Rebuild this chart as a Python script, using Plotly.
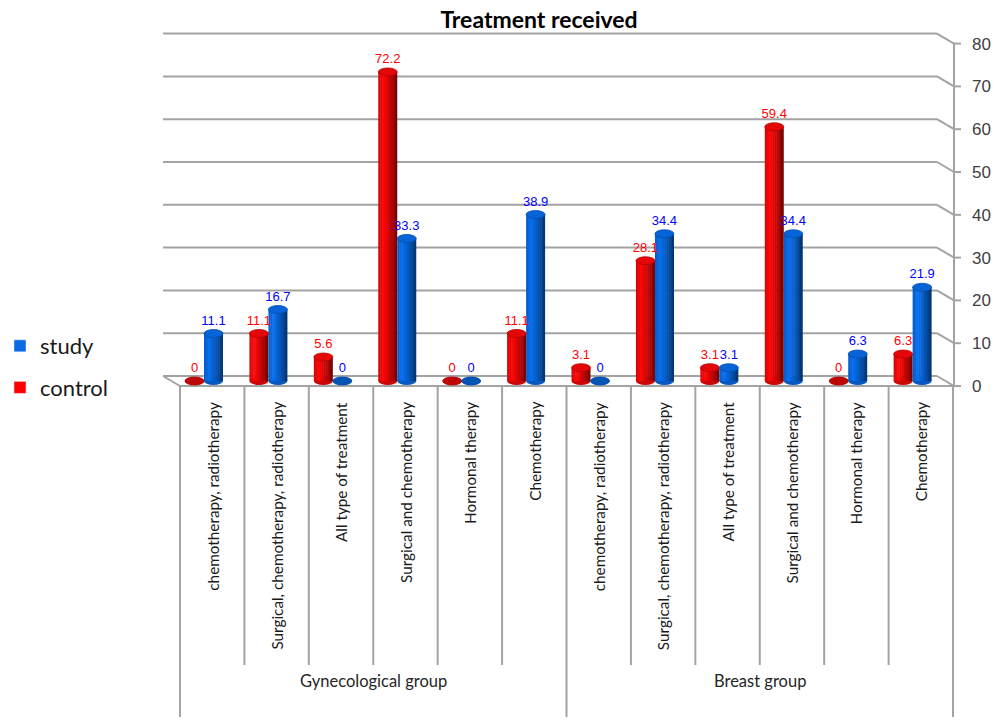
import plotly.graph_objects as go

# ---------------- data ----------------
gyn_categories = ["chemotherapy, radiotherapy", "Surgical, chemotherapy, radiotherapy",
                  "All type of treatment", "Surgical and chemotherapy",
                  "Hormonal therapy", "Chemotherapy"]
breast_categories = ["chemotherapy, radiotherapy", "Surgical, chemotherapy, radiotherapy",
                     "All type of treatment", "Surgical and chemotherapy",
                     "Hormonal therapy", "Chemotherapy"]
group_names = ["Gynecological group", "Breast group"]
control = [0, 11.1, 5.6, 72.2, 0, 11.1, 3.1, 28.1, 3.1, 59.4, 0, 6.3]
study = [11.1, 16.7, 0, 33.3, 0, 38.9, 0, 34.4, 3.1, 34.4, 6.3, 21.9]
y_ticks = [0, 10, 20, 30, 40, 50, 60, 70, 80]

categories = gyn_categories + breast_categories
idx = list(range(len(categories)))

# ---------------- geometry (pixel-based layout constants) ----------------
W, H = 998, 725
PX_PER_CAT = 64.42
X0_PX = 204.0        # pixel of bar-pair centre for first category
Y0_PX = 381.0        # pixel of value 0 on the bar plane
PX_PER_UNIT = 4.28
DEPTH = 5.0 / PX_PER_UNIT


def xd(px):
    return (px - X0_PX) / PX_PER_CAT


def yd(py):
    return (Y0_PX - py) / PX_PER_UNIT


x_range = [xd(0), xd(W)]
y_range = [yd(H), yd(0)]

BAR_W = 19.0 / PX_PER_CAT
CAP = 4.0 / PX_PER_UNIT
N_STRIPS = 10
GRID = "#a3a3a3"
FRONT = xd(212.2)    # shift from bar plane to front plane category centre


def shade(t):
    if t < 0.25:
        return 0.82 + 0.18 * (t / 0.25)
    return 1.0 - 0.55 * ((t - 0.25) / 0.75) ** 1.2


def col(base, f):
    return "rgb(%d,%d,%d)" % tuple(min(255, int(c * f)) for c in base)


RED = (255, 8, 8)
BLUE = (8, 112, 240)

fig = go.Figure()

series = [("control", control, RED, -BAR_W, "#ff0000"),
          ("study", study, BLUE, 0.0, "#0000ff")]

for name, vals, base, off, tcol in series:
    for k in range(N_STRIPS):
        t = (k + 0.5) / N_STRIPS
        wk = BAR_W / N_STRIPS
        fig.add_trace(go.Bar(
            x=idx, y=vals,
            width=wk * (1.25 if k < N_STRIPS - 1 else 1.0),
            offset=off + k * wk,
            marker=dict(color=col(base, shade(t)), line=dict(width=0)),
            showlegend=False, hoverinfo="skip"))

# data labels
for name, vals, base, off, tcol in series:
    fig.add_trace(go.Scatter(
        x=[i + off + BAR_W / 2 for i in idx], y=[v + 1.3 for v in vals],
        mode="text", text=[f"{v:g}" for v in vals], textposition="top center",
        textfont=dict(family="Liberation Sans", size=13, color=tcol),
        showlegend=False, hoverinfo="skip", cliponaxis=False))

# legend entries
fig.add_trace(go.Bar(x=[None], y=[None], name="study", marker_color="#0a6ae6",
                     legendgroup="s"))
fig.add_trace(go.Bar(x=[None], y=[None], name="control", marker_color="#ff0000",
                     legendgroup="c"))

# dummy trace to carry right axis
fig.add_trace(go.Scatter(x=[None], y=[None], yaxis="y2", showlegend=False,
                         hoverinfo="skip"))

shapes = []
# back wall gridlines + right diagonals + value-axis tick marks
xb0, xb1, xf0, xf1, xtk = xd(163), xd(937), xd(180), xd(954), xd(961)
for v in y_ticks:
    shapes.append(dict(type="line", xref="x", yref="y", x0=xb0, x1=xb1,
                       y0=v + DEPTH, y1=v + DEPTH, line=dict(color=GRID, width=2),
                       layer="below"))
    shapes.append(dict(type="line", xref="x", yref="y", x0=xb1, x1=xf1,
                       y0=v + DEPTH, y1=v - DEPTH, line=dict(color=GRID, width=2),
                       layer="below"))
    shapes.append(dict(type="line", xref="x", yref="y", x0=xf1, x1=xtk,
                       y0=v - DEPTH, y1=v - DEPTH, line=dict(color=GRID, width=2),
                       layer="below"))
# floor front edge and left diagonal
shapes.append(dict(type="line", xref="x", yref="y", x0=xf0, x1=xf1,
                   y0=-DEPTH, y1=-DEPTH, line=dict(color=GRID, width=2), layer="below"))
shapes.append(dict(type="line", xref="x", yref="y", x0=xb0, x1=xf0,
                   y0=DEPTH, y1=-DEPTH, line=dict(color=GRID, width=2), layer="below"))
# vertical value axis
shapes.append(dict(type="line", xref="x", yref="y", x0=xf1, x1=xf1,
                   y0=-DEPTH, y1=y_ticks[-1] - DEPTH, line=dict(color=GRID, width=2),
                   layer="below"))
# category dividers
n = len(categories)
for b in range(n + 1):
    xb = b - 0.5 + FRONT
    outer = b in (0, n // 2, n)
    shapes.append(dict(type="line", xref="x", yref="y", x0=xb, x1=xb,
                       y0=-DEPTH, y1=yd(717 if outer else 665),
                       line=dict(color=GRID, width=2), layer="below"))

# cylinder bottoms (below) and tops (above)
for name, vals, base, off, tcol in series:
    for i, v in zip(idx, vals):
        shapes.append(dict(type="circle", xref="x", yref="y",
                           x0=i + off, x1=i + off + BAR_W, y0=-CAP, y1=CAP,
                           fillcolor=col(base, 0.8), line=dict(width=0), layer="below"))
for name, vals, base, off, tcol in series:
    for i, v in zip(idx, vals):
        shapes.append(dict(type="circle", xref="x", yref="y",
                           x0=i + off, x1=i + off + BAR_W, y0=v - CAP, y1=v + CAP,
                           fillcolor=col(base, 0.9 if v > 0 else 0.75),
                           line=dict(width=0.8, color=col(base, 0.7)), layer="above"))

annotations = []
# category labels (rotated, top aligned under the floor)
for i, cat in zip(idx, categories):
    annotations.append(dict(x=i + FRONT, xref="x", y=1 - 400 / H, yref="paper",
                            text=cat, textangle=-90, showarrow=False,
                            xanchor="center", yanchor="top",
                            font=dict(family="Lato", size=15.3, color="#1a1a1a")))
for g, gname in enumerate(group_names):
    left = g * (n // 2) - 0.5 + FRONT
    right = (g + 1) * (n // 2) - 0.5 + FRONT
    annotations.append(dict(x=(left + right) / 2, xref="x", y=1 - 693 / H, yref="paper",
                            text=gname, showarrow=False,
                            font=dict(family="Lato", size=16.5, color="#262626")))

fig.update_layout(
    width=W, height=H,
    margin=dict(l=0, r=0, t=0, b=0, autoexpand=False),
    paper_bgcolor="white", plot_bgcolor="white",
    barmode="overlay",
    title=dict(text="<b>Treatment received</b>", x=539 / W, xanchor="center",
               y=1 - 20 / H, yanchor="middle",
               font=dict(family="Lato", size=23, color="#000000")),
    xaxis=dict(range=x_range, domain=[0, 1], showticklabels=False, ticks="",
               automargin=False, showgrid=False, zeroline=False, showline=False,
               fixedrange=True),
    yaxis=dict(range=y_range, domain=[0, 1], showgrid=False, zeroline=False,
               showline=False, showticklabels=False, ticks="", fixedrange=True,
               automargin=False),
    yaxis2=dict(range=[y_range[0] + DEPTH, y_range[1] + DEPTH], overlaying="y",
                anchor="free", position=971 / W, side="right", automargin=False,
                tickvals=y_ticks, ticks="", showgrid=False, zeroline=False,
                showline=False, fixedrange=True,
                tickfont=dict(family="Liberation Sans", size=17, color="#404040")),
    legend=dict(x=0.0, xanchor="left", y=1 - 325 / H, yanchor="top",
                traceorder="grouped", tracegroupgap=10,
                font=dict(family="Lato", size=22, color="#1a1a1a"),
                bgcolor="rgba(0,0,0,0)"),
    shapes=shapes, annotations=annotations,
    showlegend=True,
)

fig.write_html("out.html")
